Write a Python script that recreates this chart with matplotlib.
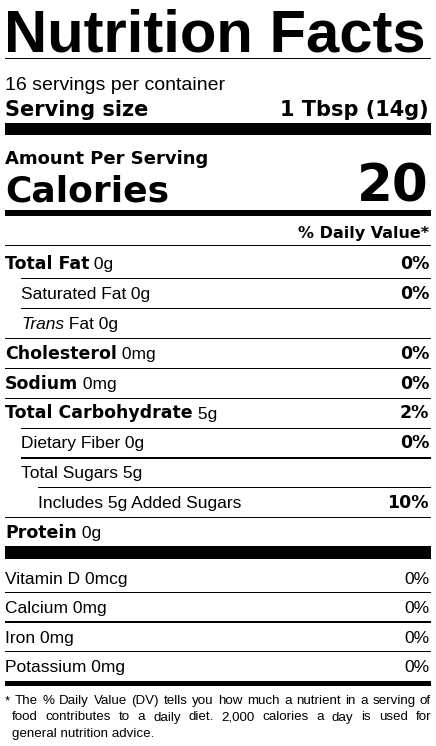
import matplotlib
matplotlib.use("Agg")
import matplotlib.pyplot as plt

plt.rcParams['font.family'] = ['Liberation Sans', 'DejaVu Sans']
BF = ['DejaVu Sans']

servings = "16 servings per container"
serving_size = "1 Tbsp (14g)"
calories = "20"
names = ["Total Fat", "Saturated Fat", "Trans Fat", "Cholesterol", "Sodium",
         "Total Carbohydrate", "Dietary Fiber", "Total Sugars", "Includes 5g Added Sugars", "Protein"]
amounts = ["0g", "0g", "0g", "0mg", "0mg", "5g", "0g", "5g", "", "0g"]
dvs = ["0%", "0%", "", "0%", "0%", "2%", "0%", "", "10%", ""]
levels = [0, 1, 1, 0, 0, 0, 1, 1, 2, 0]
vit_names = ["Vitamin D", "Calcium", "Iron", "Potassium"]
vit_amounts = ["0mcg", "0mg", "0mg", "0mg"]
vit_dvs = ["0%", "0%", "0%", "0%"]
footnote = ["* The % Daily Value (DV) tells you how much a nutrient in a serving of",
            "food contributes to a daily diet. 2,000 calories a day is used for",
            "general nutrition advice."]

W, H = 436, 746
fig = plt.figure(figsize=(W/100, H/100), dpi=100)
ax = fig.add_axes([0, 0, 1, 1])
ax.set_xlim(0, W); ax.set_ylim(H, 0); ax.axis('off')
L, R = 5, 431
rend = fig.canvas.get_renderer()

def bar(y, h, x0=L):
    ax.add_patch(plt.Rectangle((x0, y), R - x0, h, color='black', lw=0))

def after(t, yb, s, **kw):
    x1 = t.get_window_extent(rend).x1
    return ax.text(x1, yb, s, va='baseline', **kw)

ax.text(L - 1, 52, "Nutrition Facts", fontsize=43, fontweight='bold', va='baseline')
bar(58, 1.2)
ax.text(L, 90, servings, fontsize=14, va='baseline')
ax.text(L, 116, "Serving size", fontsize=15, fontweight='bold', family=BF, va='baseline')
ax.text(R - 2, 116, serving_size, fontsize=15, fontweight='bold', family=BF, va='baseline', ha='right')
bar(123, 12)
ax.text(L, 164, "Amount Per Serving", fontsize=13, fontweight='bold', family=BF, va='baseline')
ax.text(L, 201, "Calories", fontsize=26, fontweight='bold', family=BF, va='baseline')
ax.text(R - 2, 201, calories, fontsize=37, fontweight='bold', family=BF, va='baseline', ha='right')
bar(210, 6)
ax.text(R - 2, 238, "% Daily Value*", fontsize=11.5, fontweight='bold', family=BF, va='baseline', ha='right')
bar(245, 1.2)

indent = {0: L, 1: 21, 2: 38}
y0, step = 269, 29.9
for i, (n, a, d, lv) in enumerate(zip(names, amounts, dvs, levels)):
    yb = y0 + i * step
    x = indent[lv]
    if n == "Trans Fat":
        t = ax.text(x, yb, "Trans", fontsize=12.5, va='baseline', fontstyle='italic')
        after(t, yb, " Fat " + a, fontsize=12.5)
    else:
        if lv == 0:
            t = ax.text(x, yb, n, fontsize=12.5, va='baseline', fontweight='bold', family=BF)
        else:
            t = ax.text(x, yb, n, fontsize=12.5, va='baseline')
        if a:
            after(t, yb, " " + a, fontsize=12.5)
    if d:
        ax.text(R - 2, yb, d, fontsize=12.5, fontweight='bold', family=BF, va='baseline', ha='right')
    if i < len(names) - 1:
        nx = indent[levels[i + 1]] if levels[i + 1] > 0 else L
        bar(yb + 9, 1.2, nx)
bar(546, 13)
for i, (n, a, d) in enumerate(zip(vit_names, vit_amounts, vit_dvs)):
    yb = 584 + i * 29.3
    ax.text(L, yb, f"{n} {a}", fontsize=12.5, va='baseline')
    ax.text(R - 2, yb, d, fontsize=12.5, va='baseline', ha='right')
    if i < len(vit_names) - 1:
        bar(yb + 8, 1.2)
bar(681, 5)

# justified footnote
fs = 9.6
for i, line in enumerate(footnote):
    yb = 704 + i * 16.5
    x0 = L if i == 0 else 12
    words = line.split(" ")
    if i == len(footnote) - 1:
        ax.text(x0, yb, line, fontsize=fs, va='baseline')
        continue
    ts = [ax.text(0, yb, w, fontsize=fs, va='baseline') for w in words]
    ws = [t.get_window_extent(rend).width for t in ts]
    gap = (R - x0 - sum(ws)) / (len(words) - 1)
    x = x0
    for t, w in zip(ts, ws):
        t.set_x(x)
        x += w + gap
fig.savefig("out.png", dpi=100)
